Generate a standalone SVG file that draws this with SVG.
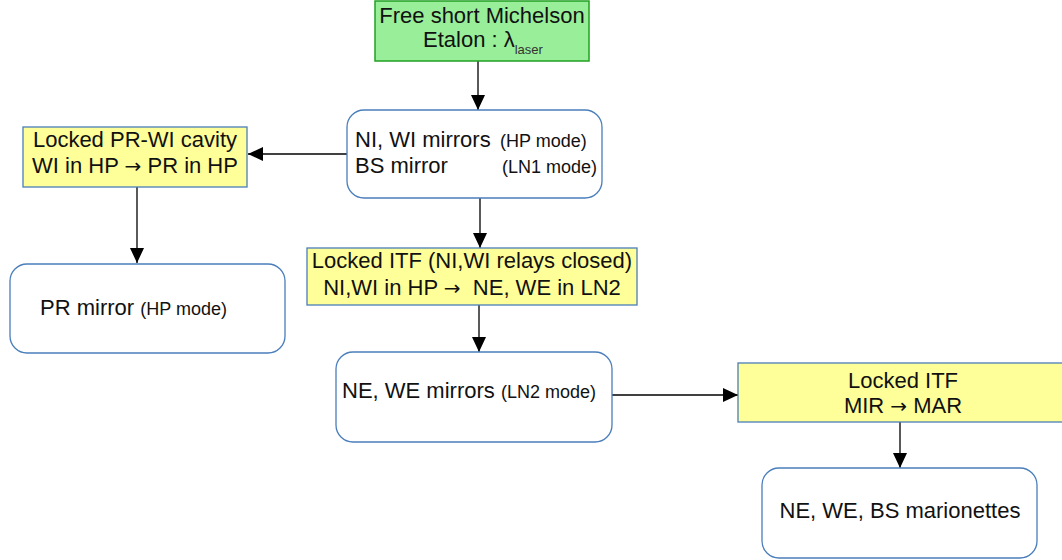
<svg xmlns="http://www.w3.org/2000/svg" width="1062" height="560" viewBox="0 0 1062 560">
<style>
text{font-family:"Liberation Sans",Arial,sans-serif;fill:#111;font-size:22px}
.s{font-size:18px}
.sub{font-size:13px;fill:#333}
.ar{font-family:"DejaVu Sans",sans-serif;font-size:20px}
.box{fill:#fff;stroke:#4a7ebb;stroke-width:1.3}
.yel{fill:#ffff99;stroke:#4a7ebb;stroke-width:1.3}
.grn{fill:#99ee99;stroke:#22a022;stroke-width:1.5}
.c{stroke:#000;stroke-width:1.3;fill:none;marker-end:url(#ah)}
</style>
<defs>
<marker id="ah" markerUnits="userSpaceOnUse" markerWidth="16" markerHeight="14" refX="15" refY="7" orient="auto">
<path d="M0,0 L15,7 L0,14 Z" fill="#000"/>
</marker>
</defs>
<g id="connectors">
<line class="c" x1="478" y1="61" x2="478" y2="110"/>
<line class="c" x1="347" y1="154" x2="248" y2="154"/>
<line class="c" x1="137" y1="187" x2="137" y2="263"/>
<line class="c" x1="480" y1="198" x2="480" y2="248"/>
<line class="c" x1="479" y1="305" x2="479" y2="352"/>
<line class="c" x1="612" y1="395" x2="738" y2="395"/>
<line class="c" x1="900" y1="422" x2="900" y2="468"/>
</g>
<g id="etalon">
<rect class="grn" x="375" y="1" width="214" height="60"/>
<text x="482" y="23" text-anchor="middle">Free short Michelson</text>
<text x="423" y="47">Etalon : λ<tspan class="sub" dy="7">laser</tspan></text>
</g>
<g id="ni-wi">
<rect class="box" x="347" y="110" width="255" height="88" rx="17"/>
<text x="355" y="147">NI, WI mirrors</text>
<text x="500" y="147" class="s">(HP mode)</text>
<text x="355" y="173">BS mirror</text>
<text x="502" y="173" class="s">(LN1 mode)</text>
</g>
<g id="pr-wi">
<rect class="yel" x="23" y="127" width="224" height="60"/>
<text x="135" y="147" text-anchor="middle">Locked PR-WI cavity</text>
<text x="135" y="173" text-anchor="middle">WI in HP <tspan class="ar">→</tspan> PR in HP</text>
</g>
<g id="pr">
<rect class="box" x="10" y="264" width="275" height="89" rx="17"/>
<text x="40" y="315">PR mirror <tspan class="s">(HP mode)</tspan></text>
</g>
<g id="itf1">
<rect class="yel" x="307" y="248" width="330" height="57"/>
<text x="472" y="268" text-anchor="middle">Locked ITF (NI,WI relays closed)</text>
<text x="472" y="295" text-anchor="middle" xml:space="preserve">NI,WI in HP <tspan class="ar">→</tspan>  NE, WE in LN2</text>
</g>
<g id="ne-we">
<rect class="box" x="336" y="352" width="276" height="90" rx="17"/>
<text x="342" y="398">NE, WE mirrors <tspan class="s">(LN2 mode)</tspan></text>
</g>
<g id="itf2">
<rect class="yel" x="738" y="363" width="330" height="59"/>
<text x="903" y="388" text-anchor="middle">Locked ITF</text>
<text x="903" y="413" text-anchor="middle">MIR <tspan class="ar">→</tspan> MAR</text>
</g>
<g id="marionettes">
<rect class="box" x="762" y="468" width="275" height="90" rx="17"/>
<text x="900" y="518" text-anchor="middle">NE, WE, BS marionettes</text>
</g>
</svg>
